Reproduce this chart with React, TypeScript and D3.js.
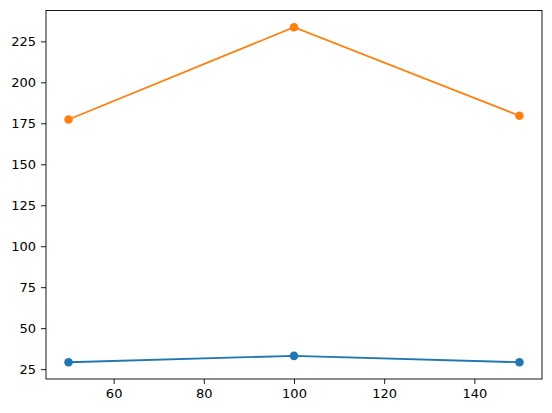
import * as d3 from 'd3';
import React, { useEffect, useRef } from 'react';

// x positions shared by both series
const xValues = [50, 100, 150];
const blueValues = [29.2, 33.1, 29.2];
const orangeValues = [177.3, 233.6, 179.6];
const xTicks = [60, 80, 100, 120, 140];
const yTicks = [25, 50, 75, 100, 125, 150, 175, 200, 225];

const W = 552;
const H = 413;
const margin = { left: 46, right: 10, top: 10.5, bottom: 34 };

function App() {
    const ref = useRef<SVGSVGElement>(null);

    useEffect(() => {
        document.body.style.margin = '0';
        const svg = d3.select(ref.current);
        svg.selectAll('*').remove();

        const all = blueValues.concat(orangeValues);
        const ymin = d3.min(all)!, ymax = d3.max(all)!;
        const ypad = (ymax - ymin) * 0.05;
        const xpad = (d3.max(xValues)! - d3.min(xValues)!) * 0.05;

        const x = d3.scaleLinear()
            .domain([d3.min(xValues)! - xpad, d3.max(xValues)! + xpad])
            .range([margin.left, W - margin.right]);
        const y = d3.scaleLinear()
            .domain([ymin - ypad, ymax + ypad])
            .range([H - margin.bottom, margin.top]);

        const font = 'DejaVu Sans, sans-serif';

        // axes
        const xAxis = svg.append('g')
            .attr('transform', `translate(0,${H - margin.bottom})`)
            .call(d3.axisBottom(x).tickValues(xTicks).tickSize(5).tickPadding(4.5).tickFormat(d3.format('d')));
        const yAxis = svg.append('g')
            .attr('transform', `translate(${margin.left},0)`)
            .call(d3.axisLeft(y).tickValues(yTicks).tickSize(5).tickPadding(5).tickFormat(d3.format('d')));

        [xAxis, yAxis].forEach(a => {
            a.select('.domain').remove();
            a.selectAll('line').attr('stroke', '#000').attr('stroke-width', 0.9);
            a.selectAll('text').attr('font-family', font).attr('font-size', 13).attr('fill', '#000');
        });

        // frame
        svg.append('rect')
            .attr('x', margin.left)
            .attr('y', margin.top)
            .attr('width', W - margin.left - margin.right)
            .attr('height', H - margin.top - margin.bottom)
            .attr('fill', 'none')
            .attr('stroke', '#000')
            .attr('stroke-width', 0.9);

        const line = d3.line<number>()
            .x((d, i) => x(xValues[i]))
            .y(d => y(d));

        const series = [
            { values: blueValues, color: '#1f77b4' },
            { values: orangeValues, color: '#ff7f0e' },
        ];

        series.forEach(s => {
            svg.append('path')
                .datum(s.values)
                .attr('d', line)
                .attr('fill', 'none')
                .attr('stroke', s.color)
                .attr('stroke-width', 1.8);
            svg.append('g')
                .selectAll('circle')
                .data(s.values)
                .enter()
                .append('circle')
                .attr('cx', (d, i) => x(xValues[i]))
                .attr('cy', d => y(d))
                .attr('r', 4.3)
                .attr('fill', s.color);
        });
    }, []);

    return (
        <svg ref={ref} width={W} height={H} style={{ display: 'block', background: '#fff' }}></svg>
    );
}

export default App;
